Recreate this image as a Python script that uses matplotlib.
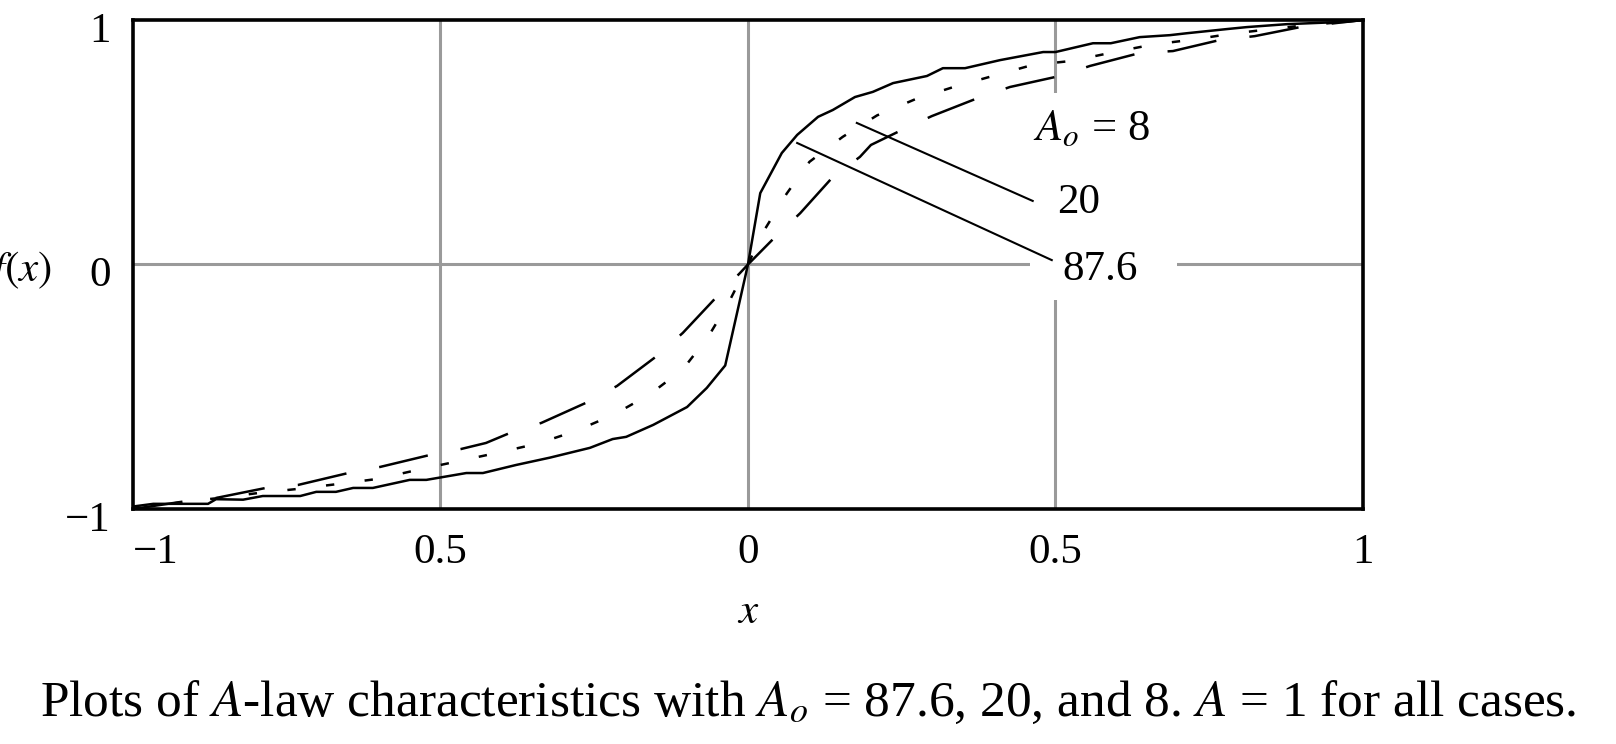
import matplotlib
matplotlib.use("Agg")
import matplotlib.pyplot as plt
import matplotlib.transforms as mtransforms
from matplotlib.patches import Rectangle

plt.rcParams['font.family'] = ['Liberation Serif', 'DejaVu Serif']
plt.rcParams['mathtext.fontset'] = 'stix'
plt.rcParams['lines.scale_dashes'] = False

# A-law curves
x_876 = [-1.0, -0.967, -0.878, -0.865, -0.821, -0.789, -0.728, -0.702, -0.67, -0.642,
         -0.61, -0.55, -0.523, -0.458, -0.431, -0.377, -0.322, -0.257, -0.22, -0.198,
         -0.154, -0.099, -0.067, -0.037, 0.0, 0.02, 0.055, 0.08, 0.114, 0.138, 0.174,
         0.203, 0.236, 0.291, 0.317, 0.353, 0.41, 0.48, 0.5, 0.561, 0.59, 0.637, 0.686,
         0.714, 0.779, 0.811, 0.876, 0.974, 1.0]
y_876 = [-0.99, -0.979, -0.979, -0.96, -0.962, -0.947, -0.947, -0.93, -0.93, -0.914,
         -0.914, -0.881, -0.881, -0.853, -0.853, -0.82, -0.79, -0.75, -0.714, -0.705,
         -0.656, -0.583, -0.505, -0.413, 0.0, 0.292, 0.456, 0.53, 0.604, 0.632, 0.685,
         0.706, 0.742, 0.771, 0.803, 0.803, 0.836, 0.869, 0.869, 0.905, 0.905, 0.93, 0.938,
         0.946, 0.963, 0.971, 0.983, 0.993, 1.0]

x_20 = [-1.0, -0.92, -0.86, -0.797, -0.732, -0.667, -0.602, -0.537, -0.472, -0.407,
        -0.341, -0.28, -0.218, -0.159, -0.106, -0.065, -0.031, 0.0, 0.024, 0.063, 0.1,
        0.154, 0.21, 0.272, 0.333, 0.398, 0.461, 0.527, 0.594, 0.659, 0.724, 0.789,
        0.893, 1.0]
y_20 = [-1.0, -0.972, -0.955, -0.935, -0.918, -0.898, -0.877, -0.84, -0.805, -0.77,
        -0.732, -0.681, -0.614, -0.53, -0.429, -0.297, -0.154, 0.0, 0.13, 0.29, 0.42,
        0.522, 0.61, 0.676, 0.725, 0.771, 0.815, 0.833, 0.868, 0.9, 0.92, 0.945,
        0.975, 1.0]

x_8 = [-1.0, -0.919, -0.865, -0.784, -0.732, -0.65, -0.598, -0.517, -0.467, -0.426,
       -0.387, -0.336, -0.26, -0.213, -0.148, -0.106, -0.05, -0.013, 0.0, 0.044, 0.085,
       0.138, 0.182, 0.2, 0.25, 0.299, 0.374, 0.426, 0.507, 0.556, 0.637, 0.691, 0.767,
       0.824, 0.898, 1.0]
y_8 = [-1.0, -0.97, -0.955, -0.914, -0.902, -0.853, -0.828, -0.779, -0.755, -0.73,
       -0.689, -0.648, -0.562, -0.497, -0.374, -0.28, -0.13, -0.035, 0.0, 0.112, 0.21,
       0.358, 0.44, 0.489, 0.55, 0.607, 0.681, 0.726, 0.771, 0.812, 0.865, 0.873, 0.918,
       0.934, 0.971, 1.0]

xticks = [-1, -0.5, 0, 0.5, 1]
xtick_labels = ['\u22121', '0.5', '0', '0.5', '1']
yticks = [-1, 0, 1]
ytick_labels = ['\u22121', '0', '1']

fs = 31
fig = plt.figure(figsize=(16.16, 7.44), dpi=100)
ax = fig.add_axes([0.0823, 0.3159, 0.7611, 0.6572])

# grid (only a few lines, gray)
for gx in [-0.5, 0, 0.5]:
    ax.axvline(gx, color='#9a9a9a', lw=2.2, zorder=1)
ax.axhline(0, color='#9a9a9a', lw=2.2, zorder=1)

# white box behind the labels
ax.add_patch(Rectangle((0.459, -0.145), 0.239, 0.846, facecolor='white',
                       edgecolor='none', zorder=2))

ax.plot(x_876, y_876, color='black', lw=1.8, zorder=3)
ax.plot(x_20, y_20, color='black', lw=1.8, dashes=(6, 22), zorder=3)
ax.plot(x_8, y_8, color='black', lw=1.8, dashes=(36, 24), zorder=3)

# leader lines
ax.plot([0.177, 0.463], [0.579, 0.26], color='black', lw=1.5, zorder=4)
ax.plot([0.08, 0.494], [0.497, 0.018], color='black', lw=1.5, zorder=4)

ax.text(0.463, 0.509, r'$A_o$ = 8', fontsize=fs + 1, ha='left', va='baseline', zorder=5)
ax.text(0.502, 0.21, '20', fontsize=fs, ha='left', va='baseline', zorder=5)
ax.text(0.511, -0.063, '87.6', fontsize=fs, ha='left', va='baseline', zorder=5)

ax.set_xlim(-1, 1)
ax.set_ylim(-1, 1)
ax.set_xticks(xticks)
ax.set_xticklabels(xtick_labels, fontsize=fs)
ax.set_yticks(yticks)
ax.set_yticklabels(ytick_labels, fontsize=fs)
ax.tick_params(axis='x', length=0, pad=18)
ax.tick_params(axis='y', length=0, pad=16)
ax.get_xticklabels()[0].set_ha('left')
off = mtransforms.ScaledTranslation(0, -0.07, fig.dpi_scale_trans)
for lab in ax.get_yticklabels():
    lab.set_transform(lab.get_transform() + off)
for s in ax.spines.values():
    s.set_linewidth(2.6)
    s.set_zorder(6)

fig.text(748 / 1616, 1 - 613 / 744, r'$x$', fontsize=fs, ha='center', va='center')
fig.text(52 / 1616, 1 - 270 / 744, r'$f(x)$', fontsize=fs, ha='right', va='center')

fig.text(0.5, 1 - 703 / 744,
         r'Plots of $A$-law characteristics with $A_o$ = 87.6, 20, and 8. $A$ = 1 for all cases.',
         fontsize=37, ha='center', va='center')

fig.savefig('out.png', dpi=100)
